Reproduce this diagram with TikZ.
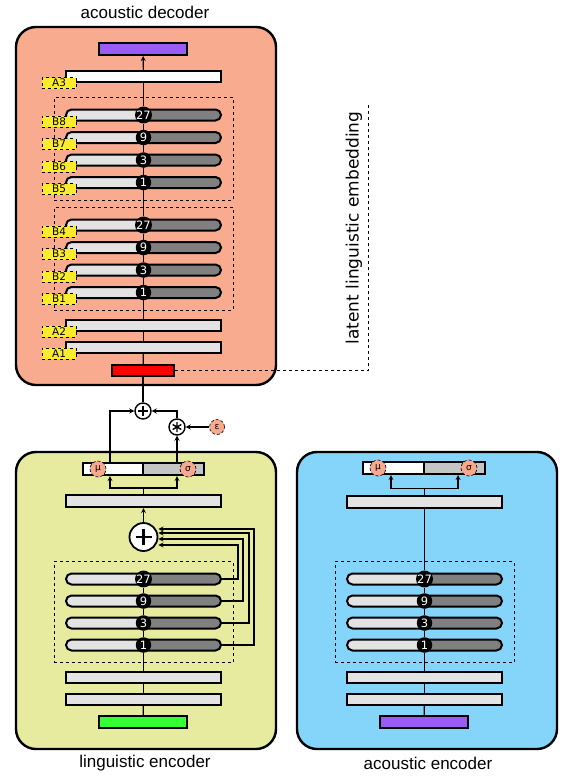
\documentclass[tikz,border=0pt]{standalone}
\usepackage{fontspec}
\setmainfont{Liberation Sans}
\newfontfamily\dejavu{DejaVu Sans}
\usepackage{xcolor}
\usepackage{tikz}
\usetikzlibrary{shapes,arrows,positioning,calc,fit}

\definecolor{decfill}{HTML}{F9AB90}
\definecolor{lingfill}{HTML}{E6EBA0}
\definecolor{acfill}{HTML}{84D5F9}
\definecolor{barlight}{HTML}{E3E3E3}
\definecolor{bardark}{HTML}{808080}
\definecolor{labfill}{HTML}{FAEB2D}
\definecolor{parfill}{HTML}{F6A98D}
\definecolor{specfill}{HTML}{9A5CF5}
\definecolor{textfill}{HTML}{33FF33}
\definecolor{embfill}{HTML}{FF0000}

\tikzset{
  frame/.style={draw, line width=2.4pt, rounded corners=20pt},
  bar/.style={draw, line width=2pt, fill=barlight, minimum width=155pt, minimum height=11pt, inner sep=0pt},
  resbar/.style={bar, rounded corners=5.5pt, path picture={\fill[bardark] (path picture bounding box.north) rectangle (path picture bounding box.south east);}},
  io/.style={draw, line width=2pt, minimum width=88pt, minimum height=12pt, inner sep=0pt},
  half/.style={draw, line width=2pt, minimum width=61pt, minimum height=12pt, inner sep=0pt},
  dil/.style={circle, fill=black, minimum size=15.5pt, inner sep=0pt, text=white, font=\dejavu\fontsize{11.5}{11.5}\selectfont},
  lab/.style={draw, dashed, line width=1pt, fill=labfill, minimum width=34pt, minimum height=11pt, inner sep=0pt, font=\dejavu\fontsize{10.5}{10.5}\selectfont},
  grp/.style={draw, dashed, line width=1pt, inner sep=11pt},
  param/.style={circle, draw, densely dashed, line width=0.6pt, fill=parfill, minimum size=16pt, inner sep=0pt, font=\dejavu\fontsize{9}{9}\selectfont},
  op/.style={circle, draw, line width=1.4pt, fill=white, minimum size=16pt, inner sep=0pt},
  title/.style={font=\fontsize{17}{20}\selectfont},
  link/.style={line width=1.2pt},
  >=stealth
}

\begin{document}
\begin{tikzpicture}[x=1pt, y=-1pt]
\useasboundingbox (0,0) rectangle (573,777);

% three blocks
\draw[frame, fill=decfill] (16,27) rectangle (276,385);
\draw[frame, fill=lingfill] (16,452) rectangle (276,749);
\draw[frame, fill=acfill] (297,452) rectangle (557,749);

\node[title] (dectitle) at (145,12) {acoustic decoder};
\node[title] (lingtitle) at (145,763) {linguistic encoder};
\node[title] (actitle) at (428,763) {acoustic encoder};

% acoustic decoder
\node[io, fill=specfill] (dout) at (143,49) {};
\node[bar, fill=white] (da3) at (143.5,76.5) {};
\node[resbar] (db8) at (143.5,115) {};
\node[resbar] (db7) at (143.5,137.5) {};
\node[resbar] (db6) at (143.5,160) {};
\node[resbar] (db5) at (143.5,182.5) {};
\node[resbar] (db4) at (143.5,225) {};
\node[resbar] (db3) at (143.5,247.5) {};
\node[resbar] (db2) at (143.5,270) {};
\node[resbar] (db1) at (143.5,292.5) {};
\node[bar] (da2) at (143.5,325) {};
\node[bar] (da1) at (143.5,347) {};
\node[io, fill=embfill, minimum width=62pt, minimum height=11pt] (dred) at (143,370.5) {};

\node[dil] (dc8) at (db8) {27};
\node[dil] (dc7) at (db7) {9};
\node[dil] (dc6) at (db6) {3};
\node[dil] (dc5) at (db5) {1};
\node[dil] (dc4) at (db4) {27};
\node[dil] (dc3) at (db3) {9};
\node[dil] (dc2) at (db2) {3};
\node[dil] (dc1) at (db1) {1};

\node[grp, fit=(db8)(db5)] (dgrp2) {};
\node[grp, fit=(db4)(db1)] (dgrp1) {};

\draw[link] (dred) -- (da1);
\draw[link] (da1) -- (da2);
\draw[link] (da2) -- (dc1);
\draw[link] (dc1) -- (dc2);
\draw[link] (dc2) -- (dc3);
\draw[link] (dc3) -- (dc4);
\draw[link] (dc4) -- (dc5);
\draw[link] (dc5) -- (dc6);
\draw[link] (dc6) -- (dc7);
\draw[link] (dc7) -- (dc8);
\draw[link] (dc8) -- (da3);
\draw[link, ->] (da3) -- (dout);

\node[lab] (la3) at ([xshift=-6pt]da3.south west) {A3};
\node[lab] (lb8) at ([xshift=-6pt]db8.south west) {B8};
\node[lab] (lb7) at ([xshift=-6pt]db7.south west) {B7};
\node[lab] (lb6) at ([xshift=-6pt]db6.south west) {B6};
\node[lab] (lb5) at ([xshift=-6pt]db5.south west) {B5};
\node[lab] (lb4) at ([xshift=-6pt]db4.south west) {B4};
\node[lab] (lb3) at ([xshift=-6pt]db3.south west) {B3};
\node[lab] (lb2) at ([xshift=-6pt]db2.south west) {B2};
\node[lab] (lb1) at ([xshift=-6pt]db1.south west) {B1};
\node[lab] (la2) at ([xshift=-6pt]da2.south west) {A2};
\node[lab] (la1) at ([xshift=-6pt]da1.south west) {A1};

% latent embedding
\coordinate (embtop) at (368,102);
\draw[dashed, line width=1pt] (dred.east) -| (embtop);
\node[rotate=90, font=\dejavu\fontsize{17}{20}\selectfont] (embtext) at (354,228) {latent linguistic embedding};

% sampling
\node[op, path picture={\draw[line width=1.2pt] (path picture bounding box.center) +(-5pt,0) -- +(5pt,0) +(0,-5pt) -- +(0,5pt);}] (zsum) at (143,411) {};
\node[op, path picture={\draw[line width=1.4pt] (path picture bounding box.center) +(90:5pt) -- +(270:5pt) +(30:5pt) -- +(210:5pt) +(150:5pt) -- +(330:5pt);}] (zmul) at (177,427) {};
\node[param, minimum size=15pt] (eps) at (217,427) {ε};

% linguistic encoder
\node[half, fill=white, minimum width=60pt] (lmu) at (113,469) {};
\node[half, fill=barlight!70!bardark] (lsig) at (173.5,469) {};
\node[param] (lmuc) at (98,469) {μ};
\node[param] (lsigc) at (188,469) {σ};
\node[bar, minimum height=12pt] (lbar) at (143.5,501) {};
\node[op, minimum size=28pt, line width=1.8pt, path picture={\draw[line width=2.2pt] (path picture bounding box.center) +(-8pt,0) -- +(8pt,0) +(0,-8pt) -- +(0,8pt);}] (lplus) at (143.5,537) {};
\node[resbar] (lb27) at (143.5,579) {};
\node[resbar] (lb9) at (143.5,601) {};
\node[resbar] (lb3) at (143.5,623) {};
\node[resbar] (lb1) at (143.5,645) {};
\node[bar] (lbb) at (143.5,677) {};
\node[bar] (lba) at (143.5,699) {};
\node[io, fill=textfill] (lin) at (143,722) {};

\node[dil] (lc27) at (lb27) {27};
\node[dil] (lc9) at (lb9) {9};
\node[dil] (lc3) at (lb3) {3};
\node[dil] (lc1) at (lb1) {1};
\node[grp, fit=(lb27)(lb1)] (lgrp) {};

\draw[link] (lin) -- (lba);
\draw[link] (lba) -- (lbb);
\draw[link] (lbb) -- (lc1);
\draw[link] (lc1) -- (lc3);
\draw[link] (lc3) -- (lc9);
\draw[link] (lc9) -- (lc27);
\draw[link, ->] (lb27.east) -- ++(16,0) |- ([yshift=-8pt]lplus.east);
\draw[link, ->] (lb9.east) -- ++(21,0) |- ([yshift=-2pt]lplus.east);
\draw[link, ->] (lb3.east) -- ++(27,0) |- ([yshift=4pt]lplus.east);
\draw[link, ->] (lb1.east) -- ++(32,0) |- ([yshift=8pt]lplus.east);
\draw[link, ->] (lplus) -- (lbar);
\draw[link] (lbar.north) -- ++(0,-6) coordinate (lsplit);
\draw[link, ->] (lsplit) -| ([xshift=-3pt]lmu.south);
\draw[link, ->] (lsplit) -| (lsig.south -| zmul);
\draw[link, ->] ([xshift=-3pt]lmu.north) |- (zsum);
\draw[link, ->] (lsig.north -| zmul) -- (zmul);
\draw[link, ->] (zmul) |- (zsum);
\draw[link, ->] (eps) -- (zmul);
\draw[link] (zsum) -- (dred);

% acoustic encoder
\node[half, fill=white] (amu) at (393.5,468) {};
\node[half, fill=barlight!70!bardark] (asig) at (454.5,468) {};
\node[param] (amuc) at (378,468) {μ};
\node[param] (asigc) at (469,468) {σ};
\node[bar, minimum height=12pt] (abar) at (424.5,501.5) {};
\node[resbar] (ab27) at (424.5,579) {};
\node[resbar] (ab9) at (424.5,601) {};
\node[resbar] (ab3) at (424.5,623) {};
\node[resbar] (ab1) at (424.5,645) {};
\node[bar] (abb) at (424.5,677) {};
\node[bar] (aba) at (424.5,699) {};
\node[io, fill=specfill] (ain) at (424,722) {};

\node[dil] (ac27) at (ab27) {27};
\node[dil] (ac9) at (ab9) {9};
\node[dil] (ac3) at (ab3) {3};
\node[dil] (ac1) at (ab1) {1};
\node[grp, fit=(ab27)(ab1)] (agrp) {};

\draw[link] (ain) -- (aba);
\draw[link] (aba) -- (abb);
\draw[link] (abb) -- (ac1);
\draw[link] (ac1) -- (ac3);
\draw[link] (ac3) -- (ac9);
\draw[link] (ac9) -- (ac27);
\draw[link] (ac27) -- (abar);
\draw[link] (abar.north) -- ++(0,-6) coordinate (asplit);
\draw[link, ->] (asplit) -| ([xshift=-2.5pt]amu.south);
\draw[link, ->] (asplit) -| ([xshift=3.5pt]asig.south);

\end{tikzpicture}
\end{document}
